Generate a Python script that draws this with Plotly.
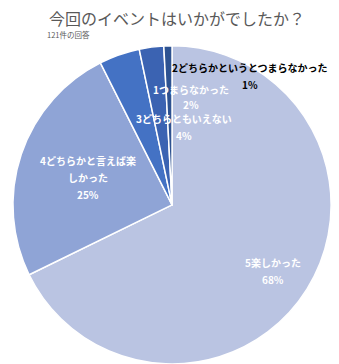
import plotly.graph_objects as go

labels = ["5楽しかった", "4どちらかと言えば楽しかった", "3どちらともいえない", "1つまらなかった", "2どちらかというとつまらなかった"]
counts = [82, 30, 5, 3, 1]
pct_labels = ["68%", "25%", "4%", "2%", "1%"]
colors = ["#BAC4E2", "#8FA4D6", "#4472C4", "#3B63B2", "#2D5291"]

# label text lines (as displayed) and their placement in pixels
label_lines = [["5楽しかった", "68%"],
               ["4どちらかと言えば楽", "しかった", "25%"],
               ["3どちらともいえない", "4%"],
               ["1つまらなかった", "2%"],
               ["2どちらかというとつまらなかった", "1%"]]
label_x = [273, 88, 184, 191, 250]
label_y = [262, 160, 119, 89, 67]
label_gap = [17, 17, 16, 15, 17]
label_colors = ["white", "white", "white", "white", "black"]

W, H = 339, 364

fig = go.Figure(go.Pie(
    labels=labels, values=counts, sort=False, direction="clockwise", rotation=0,
    marker=dict(colors=colors, line=dict(color="white", width=1.5)),
    textinfo="none", hoverinfo="label+percent",
    domain=dict(x=[0.035, 0.98], y=[0.0, 0.874]),
    showlegend=False,
))

anns = []
for lines, px, py, g, c in zip(label_lines, label_x, label_y, label_gap, label_colors):
    for i, t in enumerate(lines):
        anns.append(dict(text=t, x=px / W, y=1 - (py + g * i) / H, xref="paper", yref="paper",
                         showarrow=False, xanchor="center", yanchor="middle",
                         font=dict(family="Noto Sans CJK JP", size=10, color=c, weight="bold")))
anns.append(dict(text="今回のイベントはいかがでしたか？", x=47 / W, y=1 - 18 / H, xref="paper", yref="paper",
                 showarrow=False, xanchor="left", yanchor="middle",
                 font=dict(family="Noto Sans CJK JP", size=16, color="#595959")))
anns.append(dict(text="121件の回答", x=45 / W, y=1 - 34 / H, xref="paper", yref="paper",
                 showarrow=False, xanchor="left", yanchor="middle",
                 font=dict(family="Noto Sans CJK JP", size=7.5, color="#595959")))

fig.update_layout(width=W, height=H, margin=dict(l=0, r=0, t=0, b=0),
                  paper_bgcolor="white", plot_bgcolor="white", annotations=anns)
fig.write_html("out.html")
